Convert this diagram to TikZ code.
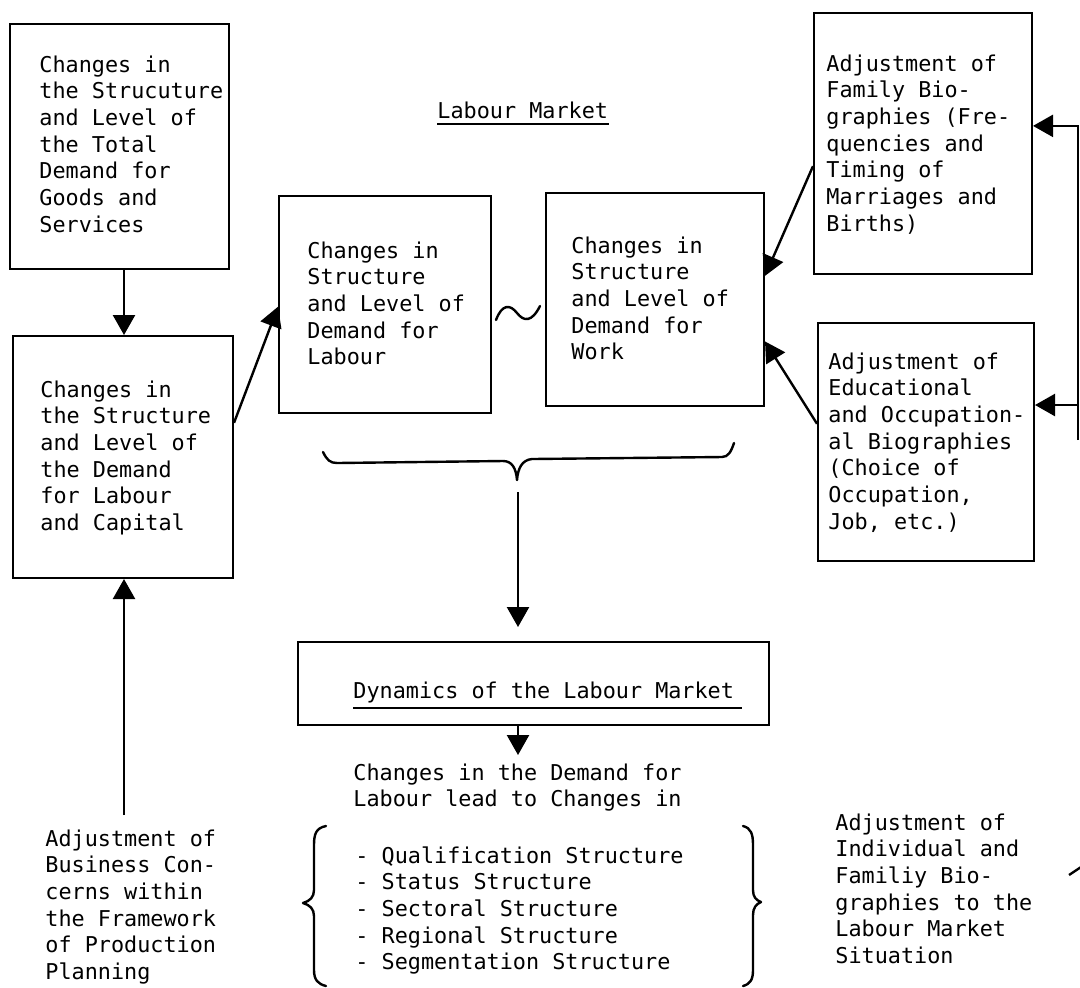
\documentclass[tikz,border=0pt]{standalone}
\usepackage{fontspec}
\newfontfamily\tw{DejaVu Sans Mono}
\usetikzlibrary{arrows.meta,calc}
\tikzset{
  box/.style={draw, line width=1pt, inner sep=0pt, anchor=north west},
  txt/.style={anchor=north west, inner sep=0pt, align=left},
  conn/.style={line width=1.2pt},
  arr/.style={line width=1.2pt, -{Triangle[width=11pt,length=10pt]}},
  deco/.style={line width=1.2pt, line cap=round, line join=round}
}
\begin{document}
\begin{tikzpicture}[x=0.5pt, y=-0.5pt, font=\tw\fontsize{10.9pt}{13.35pt}\selectfont]
\useasboundingbox (0,0) rectangle (1080,987);
\fill[white] (0,0) rectangle (1080,987);

% boxes
\node[box, minimum width=109.5pt, minimum height=122.5pt] (A) at (9,23) {};
\node[box, minimum width=110pt, minimum height=121pt] (B) at (12,335) {};
\node[box, minimum width=106pt, minimum height=108.5pt] (C) at (278,195) {};
\node[box, minimum width=109pt, minimum height=106.5pt] (D) at (545,192) {};
\node[box, minimum width=109pt, minimum height=130.5pt] (E) at (813,12) {};
\node[box, minimum width=108pt, minimum height=119pt] (F) at (817,322) {};
\node[box, minimum width=235.5pt, minimum height=41.5pt] (G) at (297,641) {};

% texts
\node[txt] (tA) at (39,53) {\strut Changes in\\the Strucuture\\and Level of\\the Total\\Demand for\\Goods and\\Services};
\node[txt] (tB) at (40,378) {\strut Changes in\\the Structure\\and Level of\\the Demand\\for Labour\\and Capital};
\node[txt] (tC) at (307,239) {\strut Changes in\\Structure\\and Level of\\Demand for\\Labour};
\node[txt] (tD) at (571,234) {\strut Changes in\\Structure\\and Level of\\Demand for\\Work};
\node[txt] (tE) at (826,52) {\strut Adjustment of\\Family Bio-\\graphies (Fre-\\quencies and\\Timing of\\Marriages and\\Births)};
\node[txt] (tF) at (828,350) {\strut Adjustment of\\Educational\\and Occupation-\\al Biographies\\(Choice of\\Occupation,\\Job, etc.)};
\node[txt] (tTitle) at (437,99) {\strut Labour Market};
\node[txt] (tG) at (353,679) {\strut Dynamics of the Labour Market};
\node[txt] (tCh) at (353,761) {\strut Changes in the Demand for\\Labour lead to Changes in};
\node[txt] (tL) at (355,844) {\strut - Qualification Structure\\- Status Structure\\- Sectoral Structure\\- Regional Structure\\- Segmentation Structure};
\node[txt] (tBL) at (45,827) {\strut Adjustment of\\Business Con-\\cerns within\\the Framework\\of Production\\Planning};
\node[txt] (tBR) at (835,811) {\strut Adjustment of\\Individual and\\Familiy Bio-\\graphies to the\\Labour Market\\Situation};

% underlines
\draw[line width=1pt] (437,124) -- (609,124);
\draw[line width=1pt] (353,708) -- (742,708);

% connectors
\coordinate (x1) at (124,0);
\draw[arr] (A.south -| x1) -- (B.north -| x1);
\draw[arr] ($(B.north east)!0.36!(B.south east)$) -- ($(C.north west)!0.51!(C.south west)$);
\draw[arr] ($(E.north west)!0.586!(E.south west)$) -- ($(D.north east)!0.39!(D.south east)$);
\draw[arr] ($(F.north west)!0.424!(F.south west)$) -- ($(D.north east)!0.695!(D.south east)$);
\coordinate (R1) at (1078,440);
\coordinate (R2) at (1078,405);
\draw[arr] (R1) |- ($(E.north east)!0.433!(E.south east)$);
\draw[arr] (R2) -- (R2 -| F.east);
\draw[arr, shorten <=6pt] (tBL.north -| x1) -- (B.south -| x1);
\coordinate (bp) at (518,492);
\draw[arr, shorten >=7pt] (bp) -- (G.north -| bp);
\draw[arr, shorten >=3pt] (G.south -| bp) -- (tCh.north -| bp);
\coordinate (s1) at (1069,875);
\coordinate (s2) at (1081,867);
\draw[conn] (s1) -- (s2);

% tilde between C and D
\draw[deco] (496,320) .. controls (502,304) and (510,304) .. (517,313) .. controls (524,322) and (532,322) .. (540,306);

% brace under C and D
\draw[deco] (323,452) .. controls (327,460) and (330,463) .. (337,463) -- (503,461) .. controls (512,461) and (516,468) .. (517,480) .. controls (518,468) and (522,460) .. (532,459) -- (722,457) .. controls (728,457) and (731,452) .. (734,443);

% bottom braces
\draw[deco] (326,826) .. controls (316,828) and (314,834) .. (314,845) -- (314,890) .. controls (314,897) and (310,901) .. (303,903) .. controls (310,905) and (314,909) .. (314,916) -- (314,970) .. controls (314,980) and (318,984) .. (326,986);
\draw[deco] (743,826) .. controls (751,828) and (753,834) .. (753,845) -- (753,890) .. controls (753,897) and (756,900) .. (761,902) .. controls (756,904) and (753,908) .. (753,915) -- (753,970) .. controls (753,980) and (750,984) .. (743,986);
\end{tikzpicture}
\end{document}
